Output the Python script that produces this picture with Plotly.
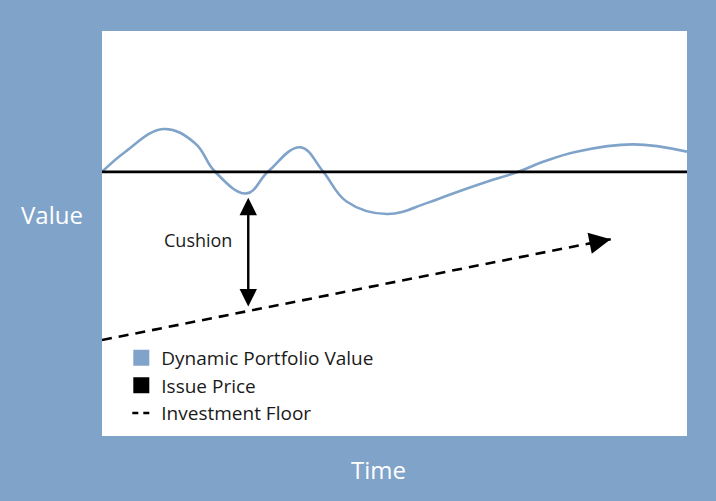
import plotly.graph_objects as go

# ---- data (time / value in arbitrary 0-100 units) ----
time_pts = [0, 4.0, 10.5, 15.9, 19.3, 24.7, 28.4, 33.9, 37.8, 41.8,
            48.7, 55.5, 60.0, 65.8, 70.9, 75.4, 81.1, 90.8, 100]
portfolio = [65.2, 70.2, 75.8, 72.3, 65.3, 59.9, 65.3, 71.3, 65.3, 57.9,
             54.8, 57.5, 59.9, 62.8, 65.1, 67.7, 70.2, 72.0, 70.2]
issue_time = [0, 100]
issue_price = [65.2, 65.2]
floor_time = [0, 86.96]
floor_value = [23.7, 48.6]
cushion_time = 25.0
cushion_top = 58.8
cushion_bottom = 31.6
legend_names = ["Dynamic Portfolio Value", "Issue Price", "Investment Floor"]

BLUE = "#80A3C9"
FONT = "Open Sans"
DARK = "#1a1a1a"

fig = go.Figure()

fig.add_trace(go.Scatter(x=time_pts, y=portfolio, mode="lines",
                         line=dict(color=BLUE, width=2.6, shape="spline", smoothing=1.15),
                         showlegend=False, hoverinfo="skip"))
fig.add_trace(go.Scatter(x=issue_time, y=issue_price, mode="lines",
                         line=dict(color="black", width=2.8),
                         showlegend=False, hoverinfo="skip"))
fig.add_trace(go.Scatter(x=floor_time, y=floor_value, mode="lines",
                         line=dict(color="black", width=2.6, dash="10px,7px"),
                         showlegend=False, hoverinfo="skip"))

# legend-only entries
fig.add_trace(go.Scatter(x=[None], y=[None], mode="markers", name=legend_names[0],
                         legendgroup="a",
                         marker=dict(symbol="square", size=17, color=BLUE, line=dict(width=0))))
fig.add_trace(go.Scatter(x=[None], y=[None], mode="markers", name=legend_names[1],
                         legendgroup="b",
                         marker=dict(symbol="square", size=17, color="black", line=dict(width=0))))
fig.add_trace(go.Scatter(x=[None], y=[None], mode="lines", name=legend_names[2],
                         legendgroup="c",
                         line=dict(color="black", width=2.6, dash="0px,6px,6px,5px,6px,100px")))

slope = (floor_value[1] - floor_value[0]) / (floor_time[1] - floor_time[0])

annotations = [
    # cushion double arrow
    dict(x=cushion_time, y=cushion_top, ax=cushion_time, ay=cushion_bottom,
         xref="x", yref="y", axref="x", ayref="y", text="", showarrow=True,
         arrowhead=2, startarrowhead=2, arrowside="end+start", arrowsize=1.45,
         startarrowsize=1.45, arrowwidth=2.4, arrowcolor="black"),
    # floor arrow head
    dict(x=floor_time[1], y=floor_value[1],
         ax=floor_time[1] - 4.0, ay=floor_value[1] - 4.0 * slope,
         xref="x", yref="y", axref="x", ayref="y", text="", showarrow=True,
         arrowhead=2, arrowsize=1.65, arrowwidth=2.6, arrowcolor="black"),
    dict(x=16.4, y=48.4, xref="x", yref="y", text="Cushion", showarrow=False,
         xanchor="center", yanchor="middle",
         font=dict(family=FONT, size=18, color=DARK)),
    dict(x=-0.0855, y=0.546, xref="paper", yref="paper", text="Value", showarrow=False,
         xanchor="center", yanchor="middle",
         font=dict(family=FONT, size=24, color="white")),
    dict(x=0.4735, y=-0.0815, xref="paper", yref="paper", text="Time", showarrow=False,
         xanchor="center", yanchor="middle",
         font=dict(family=FONT, size=24, color="white")),
]

fig.update_layout(
    width=716, height=501,
    margin=dict(l=102, r=29, t=31, b=65),
    paper_bgcolor=BLUE, plot_bgcolor="white",
    xaxis=dict(range=[0, 100], visible=False, fixedrange=True),
    yaxis=dict(range=[0, 100], visible=False, fixedrange=True),
    annotations=annotations,
    showlegend=True,
    legend=dict(x=0.033, y=0.24, xanchor="left", yanchor="top",
                bgcolor="rgba(0,0,0,0)", borderwidth=0,
                font=dict(family=FONT, size=19, color=DARK),
                tracegroupgap=0, traceorder="normal"),
)

fig.write_html("out.html")
